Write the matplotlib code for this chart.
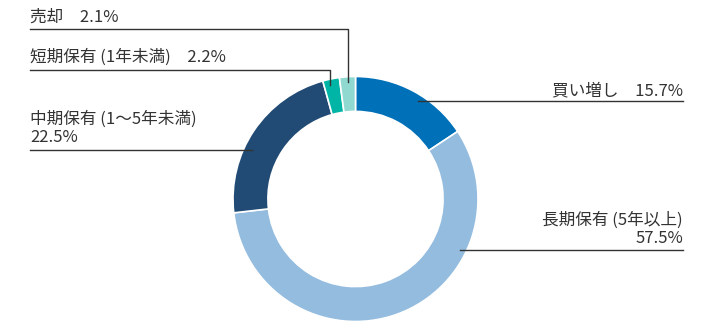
import matplotlib
matplotlib.use("Agg")
import matplotlib.pyplot as plt

plt.rcParams['font.family'] = ['Noto Sans CJK JP', 'DejaVu Sans']

categories = ['買い増し', '長期保有 (5年以上)', '中期保有 (1～5年未満)', '短期保有 (1年未満)', '売却']
values = [15.7, 57.5, 22.5, 2.2, 2.1]
colors = ['#0070b8', '#93bcdf', '#214b74', '#00b5a5', '#8fd9d1']

W, H = 710, 330
fig = plt.figure(figsize=(W / 100, H / 100), dpi=100)
ax = fig.add_axes([0, 0, 1, 1])

cx, cy, R = 355.5, H - 199, 122.5
ax.pie(values, colors=colors, startangle=90, counterclock=False,
       center=(cx, cy), radius=R, frame=True,
       wedgeprops=dict(width=R * 0.285, edgecolor='white', linewidth=1.2))
ax.set_xlim(0, W)
ax.set_ylim(0, H)
ax.set_axis_off()

tc = '#333333'
lc = '#333333'
fs = 12.0

def y(p):
    return H - p

# 売却
ax.text(30, y(22), f'{categories[4]}　{values[4]}%', fontsize=fs, color=tc, va='baseline', ha='left')
ax.plot([30, 348, 348], [y(28.5), y(28.5), y(82)], color=lc, lw=1)
# 短期保有
ax.text(30, y(61.7), f'{categories[3]}　{values[3]}%', fontsize=fs, color=tc, va='baseline', ha='left')
ax.plot([30, 330, 330], [y(69.5), y(69.5), y(85)], color=lc, lw=1)
# 中期保有
ax.text(30, y(124), f'{categories[2]}', fontsize=fs, color=tc, va='baseline', ha='left')
ax.text(30, y(141.5), f'{values[2]}%', fontsize=fs, color=tc, va='baseline', ha='left')
ax.plot([30, 252], [y(149.5), y(149.5)], color=lc, lw=1)
# 買い増し
ax.text(683, y(95), f'{categories[0]}　{values[0]}%', fontsize=fs, color=tc, va='baseline', ha='right')
ax.plot([418, 683], [y(101), y(101)], color=lc, lw=1)
# 長期保有
ax.text(683, y(225), f'{categories[1]}', fontsize=fs, color=tc, va='baseline', ha='right')
ax.text(683, y(243.3), f'{values[1]}%', fontsize=fs, color=tc, va='baseline', ha='right')
ax.plot([460, 683], [y(249.5), y(249.5)], color=lc, lw=1)

fig.savefig('out.png', dpi=100)
